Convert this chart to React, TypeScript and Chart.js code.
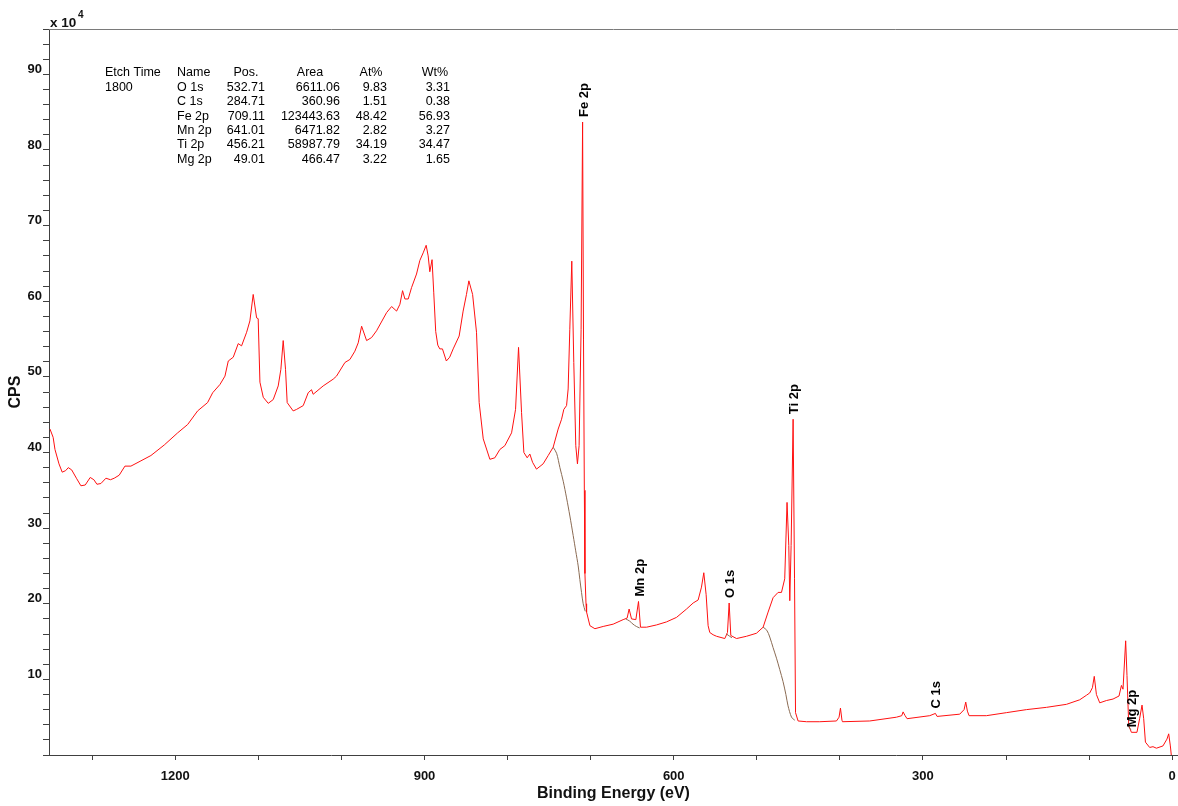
import React, { useEffect, useRef } from 'react';
import { Chart, registerables } from 'chart.js';

Chart.register(...registerables);

// ---- Spectrum (binding energy in eV, CPS in units of 10^4) ----
const ENERGY = [
  1350.8, 1347, 1344.8, 1340, 1336.1, 1332, 1328.8, 1324.7, 1319, 1313.6,
  1308.4, 1302.4, 1298, 1294.3, 1289.5, 1283.5, 1278, 1273.5, 1267.5, 1260.6,
  1253.4, 1241.3, 1229.3, 1213.2, 1197.1, 1185.1, 1173.1, 1161.1, 1155.0, 1146.2,
  1140.2, 1136.2, 1130.2, 1124.2, 1120.2, 1114.1, 1110.2, 1106.2, 1102.1, 1100.2,
  1098.1, 1094.1, 1088.1, 1082.1, 1076.1, 1072.9, 1070.1, 1067.3, 1065.3, 1058.1,
  1054.0, 1046.0, 1040.0, 1036.0, 1034.0, 1022.0, 1009.9, 1005.9, 995.8, 989.8,
  983.8, 979.8, 975.7, 969.7, 963.7, 957.7, 945.6, 939.6, 933.6, 929.6,
  926.4, 923.6, 919.6, 915.6, 909.6, 905.6, 901.6, 898.0, 895.6, 893.6,
  890.9, 888.9, 886.5, 884.0, 881.6, 878.4, 873.7, 869.7, 865.5, 858.3,
  853.5, 849.5, 846.6, 842.1, 837.4, 834.2, 829.3, 821.3, 815.3, 809.3,
  803.3, 795.2, 790.4, 786.8, 783.2, 780.4, 776.4, 773.2, 769.9, 765.2,
  757.2, 751.1, 745.1, 739.1, 735.0, 732.3, 729.0, 727.1, 725.1, 722.7,
  720.3, 717.9, 715.9, 713.9, 711.5, 709.7, 708.6, 707.6, 706.9, 705.6,
  704.9, 700.9, 694.9, 684.9, 672.9, 660.9, 656.1, 653.7, 650.8, 645.6,
  642.4, 640.0, 632.7, 620.7, 608.7, 596.6, 584.6, 576.6, 570.6, 566.6,
  563.8, 561.0, 558.6, 556.6, 552.6, 548.5, 538.5, 535.3, 533.3, 531.3,
  524.4, 512.4, 500.4, 492.4, 486.4, 480.4, 474.4, 470.3, 466.4, 463.6,
  461.5, 460.3, 458.7, 456.3, 454.6, 453.4, 450.3, 440.2, 424.2, 404.1,
  401.0, 399.3, 397.5, 396.9, 364.0, 331.9, 325.5, 323.9, 321.5, 319.1,
  291.8, 285.0, 283.0, 255.7, 250.5, 248.5, 246.5, 244.5, 223.6, 199.5,
  175.5, 151.4, 127.3, 111.3, 103.2, 99.3, 96.0, 93.8, 91.2, 87.2,
  79.2, 71.2, 64.0, 61.1, 59.2, 56.0, 54.4, 52.3, 49.1, 42.4,
  39.2, 36.3, 34.3, 32.2, 27.1, 23.1, 19.0, 11.1, 6.3, 4.2,
  2.2, 0.6,
];
const COUNTS = [
  43.1, 42.0, 40.4, 38.5, 37.4, 37.6, 38.0, 37.7, 36.6, 35.6,
  35.7, 36.7, 36.4, 35.8, 35.9, 36.6, 36.4, 36.6, 37.0, 38.2,
  38.2, 38.9, 39.6, 41.0, 42.6, 43.7, 45.5, 46.6, 47.9, 49.0,
  50.1, 52.1, 52.6, 54.4, 54.1, 55.9, 57.4, 60.9, 57.8, 57.7,
  49.3, 47.3, 46.5, 47.0, 48.8, 51.0, 54.8, 51.0, 46.6, 45.5,
  45.7, 46.2, 47.9, 48.3, 47.7, 48.8, 49.7, 50.1, 51.9, 52.3,
  53.4, 54.5, 56.7, 54.8, 55.2, 56.1, 58.5, 59.3, 58.7, 59.6,
  61.4, 60.3, 60.3, 61.8, 63.6, 65.4, 66.4, 67.4, 66.0, 63.9,
  65.5, 61.2, 56.0, 54.2, 53.7, 53.7, 52.1, 52.6, 53.7, 55.4,
  58.7, 60.9, 62.7, 60.9, 55.9, 46.6, 41.8, 39.1, 39.3, 40.4,
  40.9, 42.6, 45.7, 53.9, 45.3, 40.0, 39.3, 39.8, 38.7, 37.8,
  38.5, 39.6, 40.7, 43.1, 44.4, 45.7, 46.2, 48.4, 56.3, 65.3,
  51.9, 40.9, 38.5, 40.9, 56.3, 83.7, 55.0, 35.0, 24.0, 20.0,
  18.9, 17.1, 16.7, 17.0, 17.3, 17.9, 18.1, 19.3, 18.0, 17.9,
  20.3, 16.9, 16.9, 17.2, 17.6, 18.2, 19.3, 20.1, 20.5, 22.2,
  24.1, 21.2, 17.1, 16.2, 15.9, 15.7, 15.4, 16.2, 20.1, 15.8,
  15.4, 15.7, 16.1, 16.9, 18.9, 20.8, 21.5, 21.5, 23.3, 33.4,
  27.7, 20.4, 27.7, 44.4, 23.3, 5.6, 4.5, 4.4, 4.4, 4.5,
  5.0, 6.2, 4.6, 4.4, 4.5, 5.0, 5.2, 5.7, 5.2, 4.8,
  5.2, 5.5, 5.1, 5.4, 6.0, 7.0, 5.8, 5.2, 5.2, 5.6,
  6.0, 6.3, 6.7, 7.3, 7.9, 8.2, 8.9, 10.4, 8.0, 6.9,
  7.2, 7.4, 7.8, 9.2, 8.7, 15.1, 10.5, 3.9, 3.0, 3.0,
  4.8, 6.6, 4.8, 1.7, 1.0, 1.1, 0.9, 1.2, 2.1, 2.8,
  1.2, -0.5,
];

// ---- Backgrounds (Shirley) ----
const BG_FE_ENERGY = [745.1, 741.0, 737.0, 733.0, 729.0, 725.0, 721.0, 718.0, 715.0, 713.0, 711.0, 709.0, 706.5];
const BG_FE_COUNTS = [40.7, 39.9, 38.0, 36.2, 34.0, 31.6, 29.0, 27.0, 25.0, 23.2, 21.5, 20.0, 19.0];
const BG_MN_ENERGY = [657.7, 653.0, 649.0, 645.0, 641.0];
const BG_MN_COUNTS = [18.0, 17.7, 17.3, 17.0, 16.8];
const BG_O_ENERGY = [536.5, 530.0];
const BG_O_COUNTS = [16.0, 15.5];
const BG_TI_ENERGY = [492.4, 488.0, 484.4, 480.4, 476.3, 472.4, 468.4, 465.0, 462.4, 458.2, 454.3];
const BG_TI_COUNTS = [16.9, 16.5, 15.6, 14.2, 12.8, 11.3, 9.7, 8.0, 6.5, 5.0, 4.6];
const BG_MG_ENERGY = [52.8, 49.5];
const BG_MG_COUNTS = [3.8, 3.3];

// ---- Quantification table ----
const ETCH_TIME = '1800';
const PEAK_NAMES = ['O 1s', 'C 1s', 'Fe 2p', 'Mn 2p', 'Ti 2p', 'Mg 2p'];
const PEAK_POS = [532.71, 284.71, 709.11, 641.01, 456.21, 49.01];
const PEAK_AREA = [6611.06, 360.96, 123443.63, 6471.82, 58987.79, 466.47];
const PEAK_AT = [9.83, 1.51, 48.42, 2.82, 34.19, 3.22];
const PEAK_WT = [3.31, 0.38, 56.93, 3.27, 34.47, 1.65];

// ---- Axis ticks ----
const X_LABELED_TICKS = [0, 300, 600, 900, 1200];
const Y_LABELED_TICKS = [10, 20, 30, 40, 50, 60, 70, 80, 90];

const FONT = '"Liberation Sans", Arial, sans-serif';

const pts = (e: number[], c: number[]) => e.map((x, i) => ({ x, y: c[i] }));

const overlayPlugin = {
  id: 'xpsOverlay',
  afterDraw(chart: any) {
    const { ctx, chartArea, scales } = chart;
    const xs = scales.x;
    const ys = scales.y;
    ctx.save();
    // top frame line
    ctx.strokeStyle = '#7a7a7a';
    ctx.lineWidth = 1;
    ctx.beginPath();
    ctx.moveTo(chartArea.left, chartArea.top + 0.5);
    ctx.lineTo(chartArea.right, chartArea.top + 0.5);
    ctx.stroke();

    // x 10^4
    ctx.fillStyle = '#111';
    ctx.textBaseline = 'alphabetic';
    ctx.textAlign = 'left';
    ctx.font = `bold 13.5px ${FONT}`;
    ctx.fillText('x 10', 50, 27);
    ctx.font = `bold 10px ${FONT}`;
    ctx.fillText('4', 78, 18);

    // table
    ctx.fillStyle = '#000';
    ctx.font = `12.5px ${FONT}`;
    ctx.textBaseline = 'middle';
    const y0 = 73;
    const dy = 14.4;
    ctx.textAlign = 'left';
    ctx.fillText('Etch Time', 105, y0);
    ctx.fillText(ETCH_TIME, 105, y0 + dy);
    ctx.fillText('Name', 177, y0);
    ctx.textAlign = 'center';
    ctx.fillText('Pos.', 246, y0);
    ctx.fillText('Area', 310, y0);
    ctx.fillText('At%', 371, y0);
    ctx.fillText('Wt%', 435, y0);
    PEAK_NAMES.forEach((n, i) => {
      const y = y0 + dy * (i + 1);
      ctx.textAlign = 'left';
      ctx.fillText(n, 177, y);
      ctx.textAlign = 'right';
      ctx.fillText(PEAK_POS[i].toFixed(2), 265, y);
      ctx.fillText(PEAK_AREA[i].toFixed(2), 340, y);
      ctx.fillText(PEAK_AT[i].toFixed(2), 387, y);
      ctx.fillText(PEAK_WT[i].toFixed(2), 450, y);
    });

    // peak labels
    ctx.font = `bold 13px ${FONT}`;
    ctx.fillStyle = '#000';
    PEAK_NAMES.forEach((n, i) => {
      const pos = PEAK_POS[i];
      let m = -Infinity;
      ENERGY.forEach((e, k) => {
        if (Math.abs(e - pos) <= 3) m = Math.max(m, COUNTS[k]);
      });
      const px = xs.getPixelForValue(pos);
      const py = ys.getPixelForValue(m) - 5;
      ctx.save();
      ctx.translate(px + 1, py);
      ctx.rotate(-Math.PI / 2);
      ctx.textAlign = 'left';
      ctx.textBaseline = 'middle';
      ctx.fillText(n, 0, 0);
      ctx.restore();
    });
    ctx.restore();
  },
};

export default function App() {
  const ref = useRef<HTMLCanvasElement>(null);
  useEffect(() => {
    document.body.style.margin = '0';
    const canvas = ref.current as HTMLCanvasElement;
    const bgStyle = { borderColor: '#8a6a52', borderWidth: 1, pointRadius: 0, tension: 0.3, fill: false };
    const chart = new Chart(canvas, {
      type: 'line',
      data: {
        datasets: [
          { data: pts(BG_FE_ENERGY, BG_FE_COUNTS), ...bgStyle },
          { data: pts(BG_MN_ENERGY, BG_MN_COUNTS), ...bgStyle },
          { data: pts(BG_O_ENERGY, BG_O_COUNTS), ...bgStyle },
          { data: pts(BG_TI_ENERGY, BG_TI_COUNTS), ...bgStyle },
          { data: pts(BG_MG_ENERGY, BG_MG_COUNTS), ...bgStyle },
          {
            data: pts(ENERGY, COUNTS),
            borderColor: '#ff1010',
            borderWidth: 1,
            pointRadius: 0,
            tension: 0,
            fill: false,
          },
        ],
      } as any,
      options: {
        animation: false,
        responsive: false,
        devicePixelRatio: 1,
        layout: { padding: { top: 29, right: 0, left: 0, bottom: 0 } },
        plugins: { legend: { display: false }, tooltip: { enabled: false } },
        scales: {
          x: {
            type: 'linear',
            reverse: true,
            min: -7,
            max: 1352,
            afterFit: (s: any) => {
              s.height = 51;
              s.paddingLeft = 0;
              s.paddingRight = 0;
            },
            border: { color: '#404040', width: 1 },
            grid: { drawOnChartArea: false, drawTicks: true, tickLength: 5, color: '#404040' },
            ticks: {
              stepSize: 100,
              includeBounds: false,
              autoSkip: false,
              maxRotation: 0,
              padding: 9,
              color: '#111',
              font: { family: FONT, size: 13, weight: 'bold' },
              callback: (v: any) => (X_LABELED_TICKS.includes(Number(v)) ? String(v) : ''),
            },
            title: {
              display: true,
              text: 'Binding Energy (eV)',
              color: '#111',
              font: { family: FONT, size: 16, weight: 'bold' },
              padding: { top: 0, bottom: 2.5 },
            },
          },
          y: {
            type: 'linear',
            min: 0,
            max: 96,
            afterFit: (s: any) => {
              s.width = 49;
              s.paddingTop = 0;
              s.paddingBottom = 0;
            },
            border: { color: '#404040', width: 1 },
            grid: { drawOnChartArea: false, drawTicks: true, tickLength: 6, color: '#404040' },
            ticks: {
              stepSize: 2,
              includeBounds: false,
              autoSkip: false,
              padding: 1,
              labelOffset: -5,
              color: '#111',
              font: { family: FONT, size: 13, weight: 'bold' },
              callback: (v: any) => (Y_LABELED_TICKS.includes(Number(v)) ? String(v) : ''),
            },
            title: {
              display: true,
              text: 'CPS',
              color: '#111',
              font: { family: FONT, size: 16, weight: 'bold' },
              padding: { top: 6, bottom: 0 },
            },
          },
        },
      } as any,
      plugins: [overlayPlugin],
    });
    return () => chart.destroy();
  }, []);
  return (
    <div style={{ width: 1178, height: 806, position: 'relative', background: '#fff' }}>
      <canvas ref={ref} width={1178} height={806} style={{ display: 'block' }} />
    </div>
  );
}
